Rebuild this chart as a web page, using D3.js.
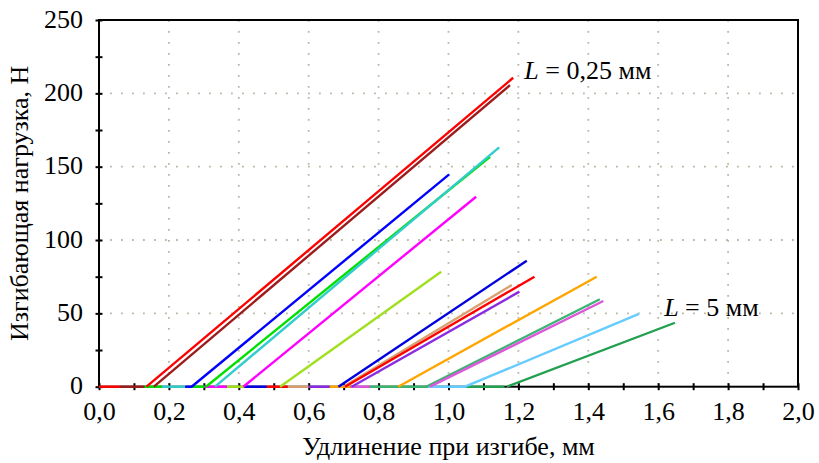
<!DOCTYPE html>
<html>
<head>
<meta charset="utf-8">
<script src="https://d3js.org/d3.v7.min.js"></script>
<style>
  body { margin: 0; background: white; }
</style>
</head>
<body>
<div id="chart"></div>
<script>

  // rising parts of the curves: start on the axis, end point
  var seriesColor = ["#ff0000", "#9b1c1c", "#0000ff", "#00e000", "#33cccc", "#ff00ff", "#a0e020", "#0000e0",
                     "#d9a070", "#ff0000", "#8a2be2", "#ffa500", "#3cb371", "#dd55dd", "#66ccff", "#22a050"];
  var seriesStart = [0.136, 0.157, 0.265, 0.306, 0.332, 0.413, 0.518, 0.685,
                     0.699, 0.704, 0.723, 0.856, 0.936, 0.947, 1.047, 1.167];
  var seriesEndX  = [1.185, 1.176, 1.002, 1.119, 1.145, 1.079, 0.979, 1.224,
                     1.181, 1.246, 1.203, 1.424, 1.433, 1.443, 1.545, 1.648];
  var seriesEndY  = [210.6, 205.6, 144.8, 156.8, 163.2, 129.5, 78.4, 85.9,
                     69.3, 75.0, 64.8, 75.0, 59.6, 58.4, 49.6, 43.6];

  // flat parts lying on the x axis (index into the series above)
  var baseFrom   = [0.00, 0.06, 0.13, 0.18, 0.247, 0.266, 0.303, 0.366, 0.415, 0.48, 0.54, 0.60, 0.66, 0.72, 0.775, 0.94, 1.05];
  var baseTo     = [0.06, 0.13, 0.18, 0.247, 0.266, 0.303, 0.366, 0.415, 0.48, 0.54, 0.60, 0.66, 0.72, 0.775, 0.94, 1.05, 1.16];
  var baseSeries = [0, 1, 3, 4, 2, 3, 5, 6, 7, 9, 8, 10, 11, 13, 12, 14, 15];

  var xTicks = [0, 0.2, 0.4, 0.6, 0.8, 1.0, 1.2, 1.4, 1.6, 1.8, 2.0];
  var yTicks = [0, 50, 100, 150, 200, 250];

  var notes = [
    {x: 1.217, y: 209.5, label: "0,25 мм"},
    {x: 1.617, y: 47.9, label: "5 мм"}
  ];

  var serif = "Liberation Serif";

  var margin = {top: 20, right: 21, bottom: 76.3, left: 99},
      width = 819 - margin.left - margin.right,
      height = 463 - margin.top - margin.bottom;

  var svg = d3.select("#chart")
    .append("svg")
      .attr("width", 819)
      .attr("height", 463)
    .append("g")
      .attr("transform", "translate(" + margin.left + "," + margin.top + ")");

  var x = d3.scaleLinear().domain([0, 2]).range([0, width]);
  var y = d3.scaleLinear().domain([0, 250]).range([height, 0]);

  // dotted grid
  svg.append("g")
    .selectAll("line")
    .data(xTicks.slice(1, -1))
    .enter()
    .append("line")
      .attr("x1", function(d) { return x(d); })
      .attr("x2", function(d) { return x(d); })
      .attr("y1", 0)
      .attr("y2", height)
      .attr("stroke", "#b8b8a4")
      .attr("stroke-width", 1.8)
      .attr("stroke-dasharray", "1.8,9.2");
  svg.append("g")
    .selectAll("line")
    .data(yTicks.slice(1, -1))
    .enter()
    .append("line")
      .attr("x1", 0)
      .attr("x2", width)
      .attr("y1", function(d) { return y(d); })
      .attr("y2", function(d) { return y(d); })
      .attr("stroke", "#b8b8a4")
      .attr("stroke-width", 1.8)
      .attr("stroke-dasharray", "1.8,9.2");

  // frame
  svg.append("rect")
    .attr("x", 0).attr("y", 0)
    .attr("width", width).attr("height", height)
    .attr("fill", "none")
    .attr("stroke", "black")
    .attr("stroke-width", 2);

  // axes, ticks crossing the line
  var xAxis = svg.append("g")
    .attr("transform", "translate(0," + height + ")")
    .call(d3.axisBottom(x).tickValues(d3.range(0, 2.01, 0.1)).tickSize(0).tickFormat(""));
  xAxis.select(".domain").remove();
  xAxis.selectAll(".tick line")
    .attr("y1", -3.5).attr("y2", 3.5)
    .attr("stroke", "black").attr("stroke-width", 2);
  xAxis.selectAll(".tick")
    .filter(function(d) { return xTicks.some(function(t) { return Math.abs(t - d) < 1e-6; }); })
    .append("text")
      .attr("y", 33.5)
      .attr("text-anchor", "middle")
      .attr("fill", "black")
      .style("font-family", serif)
      .style("font-size", "26px")
      .text(function(d) { return d3.format(".1f")(d).replace(".", ","); });

  var yAxis = svg.append("g")
    .call(d3.axisLeft(y).tickValues(d3.range(0, 251, 25)).tickSize(0).tickFormat(""));
  yAxis.select(".domain").remove();
  yAxis.selectAll(".tick line")
    .attr("x1", -3.5).attr("x2", 3.5)
    .attr("stroke", "black").attr("stroke-width", 2);
  yAxis.selectAll(".tick")
    .filter(function(d) { return yTicks.indexOf(d) >= 0; })
    .append("text")
      .attr("x", -16)
      .attr("dy", "0.27em")
      .attr("text-anchor", "end")
      .attr("fill", "black")
      .style("font-family", serif)
      .style("font-size", "26px")
      .text(function(d) { return d; });

  // flat parts on the axis
  svg.append("g")
    .selectAll("line")
    .data(baseFrom)
    .enter()
    .append("line")
      .attr("x1", function(d) { return x(d); })
      .attr("x2", function(d, i) { return x(baseTo[i]); })
      .attr("y1", y(0))
      .attr("y2", y(0))
      .attr("stroke", function(d, i) { return seriesColor[baseSeries[i]]; })
      .attr("stroke-width", 2.5);

  // rising curves
  var line = d3.line()
    .x(function(d) { return x(d[0]); })
    .y(function(d) { return y(d[1]); });
  svg.append("g")
    .selectAll("path")
    .data(seriesStart)
    .enter()
    .append("path")
      .attr("d", function(d, i) { return line([[d, 0], [seriesEndX[i], seriesEndY[i]]]); })
      .attr("fill", "none")
      .attr("stroke", function(d, i) { return seriesColor[i]; })
      .attr("stroke-width", 2.4);

  // annotations
  notes.forEach(function(n) {
    var t = svg.append("text")
      .attr("x", x(n.x))
      .attr("y", y(n.y))
      .style("font-family", serif)
      .style("font-size", "26px");
    t.append("tspan").style("font-style", "italic").text("L");
    t.append("tspan").text(" = " + n.label);
  });

  // axis labels
  svg.append("text")
    .attr("x", width / 2)
    .attr("y", height + 68)
    .attr("text-anchor", "middle")
    .style("font-family", serif)
    .style("font-size", "26px")
    .text("Удлинение при изгибе, мм");
  svg.append("text")
    .attr("transform", "rotate(-90)")
    .attr("x", -height / 2)
    .attr("y", -71)
    .attr("text-anchor", "middle")
    .style("font-family", serif)
    .style("font-size", "26px")
    .text("Изгибающая нагрузка, Н");

</script>
</body>
</html>
